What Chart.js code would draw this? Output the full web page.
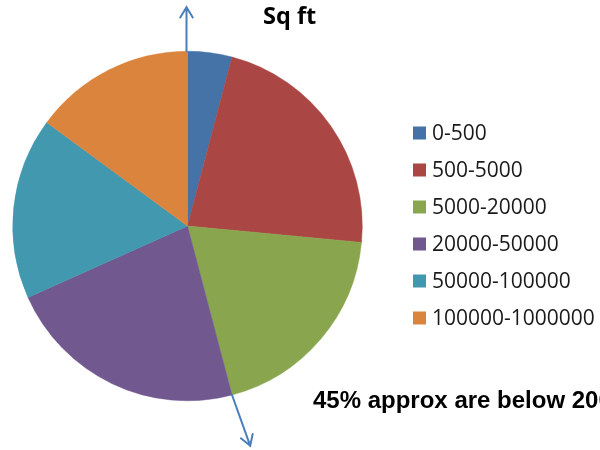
<!DOCTYPE html>
<html>
<head>
<meta charset="utf-8">
<title>Sq ft</title>
<script src="https://cdn.jsdelivr.net/npm/chart.js@4/dist/chart.umd.min.js"></script>
<style>
  html, body { margin: 0; padding: 0; background: #fff; }
  #pie { display: block; }
</style>
</head>
<body>
<canvas id="pie" width="600" height="450"></canvas>
<script>
const sizeBands = ["0-500", "500-5000", "5000-20000", "20000-50000", "50000-100000", "100000-1000000"];
const shares = [4.1, 22.4, 19.4, 22.4, 16.8, 14.9];
const sliceColors = ["#4572A7", "#AA4643", "#89A54E", "#71588F", "#4198AF", "#DB843D"];
const chartTitle = "Sq ft";
const noteText = "45% approx are below 20000";

const arrowColor = "#4A7EBB";

function drawArrow(ctx, x0, y0, x1, y1) {
  const ang = Math.atan2(y1 - y0, x1 - x0);
  const head = 12;
  const spread = 0.55;
  ctx.save();
  ctx.strokeStyle = arrowColor;
  ctx.lineWidth = 2;
  ctx.lineCap = "round";
  ctx.beginPath();
  ctx.moveTo(x0, y0);
  ctx.lineTo(x1, y1);
  ctx.moveTo(x1 - head * Math.cos(ang - spread), y1 - head * Math.sin(ang - spread));
  ctx.lineTo(x1, y1);
  ctx.lineTo(x1 - head * Math.cos(ang + spread), y1 - head * Math.sin(ang + spread));
  ctx.stroke();
  ctx.restore();
}

// title, legend, note and the two arrows are painted over the pie
const decorations = {
  id: "decorations",
  afterDraw(chart) {
    const ctx = chart.ctx;
    const arcs = chart.getDatasetMeta(0).data;
    const { x, y, outerRadius } = arcs[0];

    // arrow up out of the top of the pie
    drawArrow(ctx, x - 1, y - outerRadius, x - 1, y - outerRadius - 44);

    // arrow down from where the 20000 boundary meets the rim
    const a = arcs[2].endAngle;
    const sx = x + Math.cos(a) * outerRadius;
    const sy = y + Math.sin(a) * outerRadius;
    const tilt = 19.7 * Math.PI / 180;
    drawArrow(ctx, sx, sy, sx + Math.sin(tilt) * 54, sy + Math.cos(tilt) * 54);

    ctx.save();
    ctx.fillStyle = "#000";
    ctx.textBaseline = "alphabetic";
    ctx.textAlign = "left";
    ctx.font = "bold 23.5px 'Open Sans'";
    ctx.fillText(chartTitle, 263, 24);

    ctx.font = "bold 24px 'Liberation Sans'";
    ctx.fillText(noteText, 313, 408);

    // legend
    ctx.font = "21px 'Open Sans'";
    ctx.textBaseline = "middle";
    sizeBands.forEach((label, i) => {
      const cy = 133 + i * 37;
      ctx.fillStyle = sliceColors[i];
      ctx.fillRect(413, cy - 6.5, 13, 13);
      ctx.fillStyle = "#1a1a1a";
      ctx.fillText(label, 432, cy + 1);
    });
    ctx.restore();
  },
};

new Chart(document.getElementById("pie"), {
  type: "pie",
  data: {
    labels: sizeBands,
    datasets: [
      {
        data: shares,
        backgroundColor: sliceColors,
        borderColor: sliceColors,
        borderWidth: 0.5,
      },
    ],
  },
  options: {
    responsive: false,
    animation: false,
    layout: { padding: { left: 12, top: 51, right: 237, bottom: 49 } },
    plugins: {
      legend: { display: false },
      tooltip: { enabled: false },
      title: { display: false },
    },
  },
  plugins: [decorations],
});
</script>
</body>
</html>
